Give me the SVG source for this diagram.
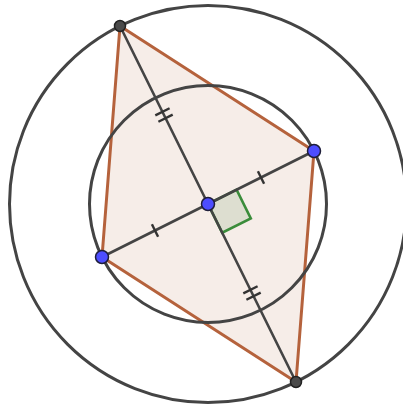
<svg xmlns="http://www.w3.org/2000/svg" width="403" height="408" viewBox="0 0 403 408">
<style>
.circ{fill:none;stroke:#444;stroke-width:3}
.seg{stroke:#444;stroke-width:2.6;stroke-linecap:round}
.tick{stroke:#333;stroke-width:2.4}
.poly{fill:#993300;fill-opacity:0.09;stroke:#b5623c;stroke-width:3;stroke-linejoin:round}
.angle{fill:#006400;fill-opacity:0.1;stroke:#3a8c3a;stroke-width:2.6}
.pb{fill:#4d4dff;stroke:#1e1e3a;stroke-width:1.5}
.pk{fill:#4a4a4a;stroke:#222;stroke-width:1.5}
</style>
<rect width="403" height="408" fill="#fff"/>
<g id="quad"><polygon class="poly" points="120,26 314,151 296,382 102,257"/></g>
<g id="circles">
<circle id="bigCircle" class="circ" cx="208" cy="204" r="198.5"/>
<circle id="smallCircle" class="circ" cx="208" cy="204" r="118.5"/>
</g>
<g id="rightAngle"><polygon class="angle" points="208,204 236.6,189.7 250.8,218.4 222.2,232.7"/></g>
<g id="connectors">
<line class="seg" x1="120" y1="26" x2="296" y2="382"/>
<line class="seg" x1="102" y1="257" x2="314" y2="151"/>
<line class="tick" x1="257.9" y1="171.2" x2="264.1" y2="183.8"/>
<line class="tick" x1="151.9" y1="224.2" x2="158.1" y2="236.8"/>
<line class="tick" x1="155.3" y1="115.4" x2="169.6" y2="108.3"/>
<line class="tick" x1="158.4" y1="121.7" x2="172.7" y2="114.6"/>
<line class="tick" x1="243.3" y1="293.4" x2="257.6" y2="286.3"/>
<line class="tick" x1="246.4" y1="299.7" x2="260.7" y2="292.6"/>
</g>
<g id="A"><circle class="pk" cx="120" cy="26" r="5.5"/></g>
<g id="C"><circle class="pk" cx="296" cy="382" r="5.5"/></g>
<g id="B"><circle class="pb" cx="314" cy="151" r="6.5"/></g>
<g id="D"><circle class="pb" cx="102" cy="257" r="6.5"/></g>
<g id="O"><circle class="pb" cx="208" cy="204" r="6.5"/></g>
</svg>
